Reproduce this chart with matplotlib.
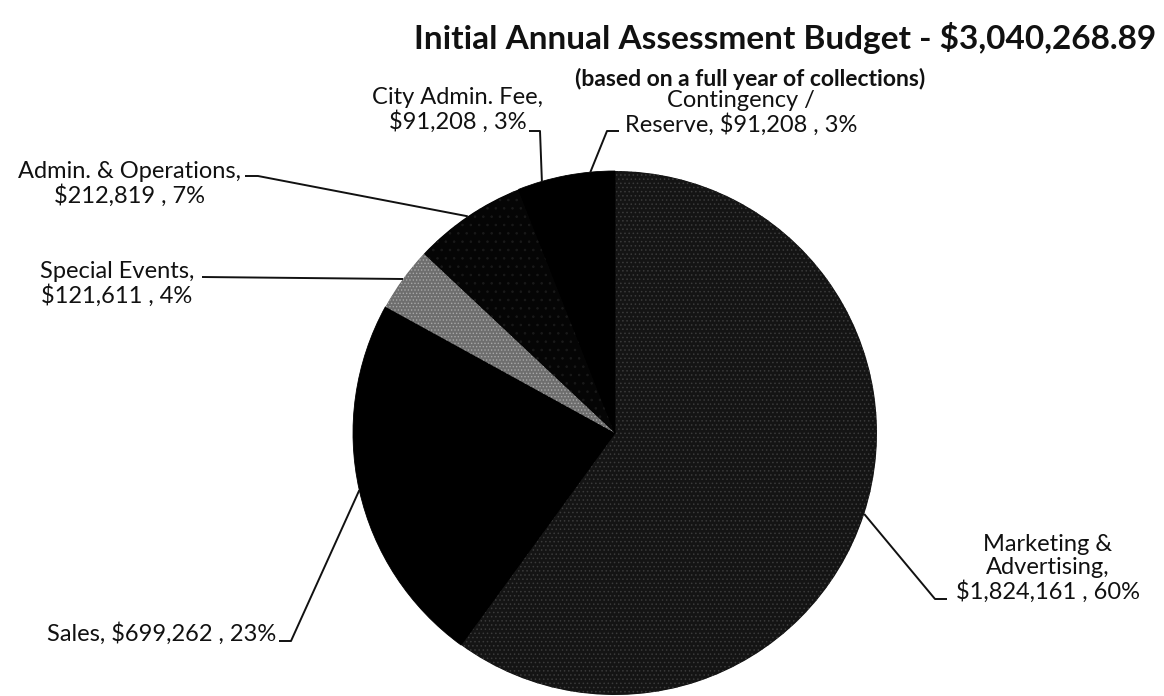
import matplotlib
matplotlib.use("Agg")
import matplotlib.pyplot as plt
from matplotlib.patches import Circle
import numpy as np

plt.rcParams['font.family'] = ['Lato', 'DejaVu Sans']
plt.rcParams['hatch.linewidth'] = 0.6

# ---- data ----
categories = ["Marketing & Advertising", "Sales", "Special Events",
              "Admin. & Operations", "City Admin. Fee", "Contingency / Reserve"]
amounts = [1824161, 699262, 121611, 212819, 91208, 91208]
percents = [60, 23, 4, 7, 3, 3]
label_texts = [
    "Marketing &\nAdvertising,\n$1,824,161 , 60%",
    "Sales, $699,262 , 23%",
    "Special Events,\n$121,611 , 4%",
    "Admin. & Operations,\n$212,819 , 7%",
    "City Admin. Fee,\n$91,208 , 3%",
    "Contingency /\nReserve, $91,208 , 3%",
]
title = "Initial Annual Assessment Budget - $3,040,268.89"
subtitle = "(based on a full year of collections)"

W, H = 1164, 696
fig = plt.figure(figsize=(W / 100, H / 100), dpi=100)
ax = fig.add_axes([0, 0, 1, 1])

def py(y):  # pixel-from-top -> data y
    return H - y

cx, cy, R = 615, py(433), 262
face = ['#141414', '#000000', '#6e6e6e', '#050505', '#000000', '#000000']
hatch_col = ['#3a3a3a', '#000000', '#a8a8a8', '#1a1a1a', '#000000', '#000000']
hatches = ['....', None, '.....', '..', None, None]

# black disc beneath to hide seams between wedges
ax.add_patch(Circle((cx, cy), R - 0.5, facecolor='black', edgecolor='none', zorder=0))

wedges, _ = ax.pie(amounts, startangle=90, counterclock=False,
                   center=(cx, cy), radius=R, frame=True,
                   wedgeprops=dict(linewidth=0))
ax.set_xlim(0, W)
ax.set_ylim(0, H)
ax.set_aspect('equal')
ax.axis('off')
for w, fc, hc, h in zip(wedges, face, hatch_col, hatches):
    w.set_facecolor(fc)
    if h:
        w.set_hatch(h)
        w.set_edgecolor(hc)
        w.set_linewidth(0)
    else:
        w.set_edgecolor(fc)
        w.set_linewidth(0.6)

def edge_point(w):
    a = np.deg2rad((w.theta1 + w.theta2) / 2)
    return cx + R * np.cos(a), cy + R * np.sin(a)

fs = 17
tkw = dict(fontsize=fs, color='#111111', linespacing=1.12)

# label text placement (pixel coords, from top)
ax.text(1048, py(568), label_texts[0], ha='center', va='center', **tkw)
ax.text(276, py(634), label_texts[1], ha='right', va='center', **tkw)
ax.text(117, py(284), label_texts[2], ha='center', va='center', **tkw)
ax.text(129, py(184), label_texts[3], ha='center', va='center', **tkw)
ax.text(458, py(110), label_texts[4], ha='center', va='center', **tkw)
ax.text(741, py(113), label_texts[5], ha='center', va='center', **tkw)

lkw = dict(color='#111111', lw=1.4, solid_capstyle='butt')
# leader lines: text elbow -> wedge edge
elbows = [
    [(947, 599), (935, 599)],
    [(279, 641), (291, 641)],
    [(202, 277)],
    [(245, 176), (258, 176)],
    [(529, 131), (540, 131)],
    [(619, 131), (607, 131)],
]
for w, el in zip(wedges, elbows):
    ex, ey = edge_point(w)
    xs = [p[0] for p in el] + [ex]
    ys = [py(p[1]) for p in el] + [ey]
    ax.plot(xs, ys, **lkw)

fig.text(785 / W, 1 - 38 / H, title, ha='center', va='center',
         fontsize=24, fontweight='bold', color='#111111')
fig.text(750 / W, 1 - 79 / H, subtitle, ha='center', va='center',
         fontsize=16.5, fontweight='bold', color='#111111')

fig.savefig('out.png', dpi=100, facecolor='white')
